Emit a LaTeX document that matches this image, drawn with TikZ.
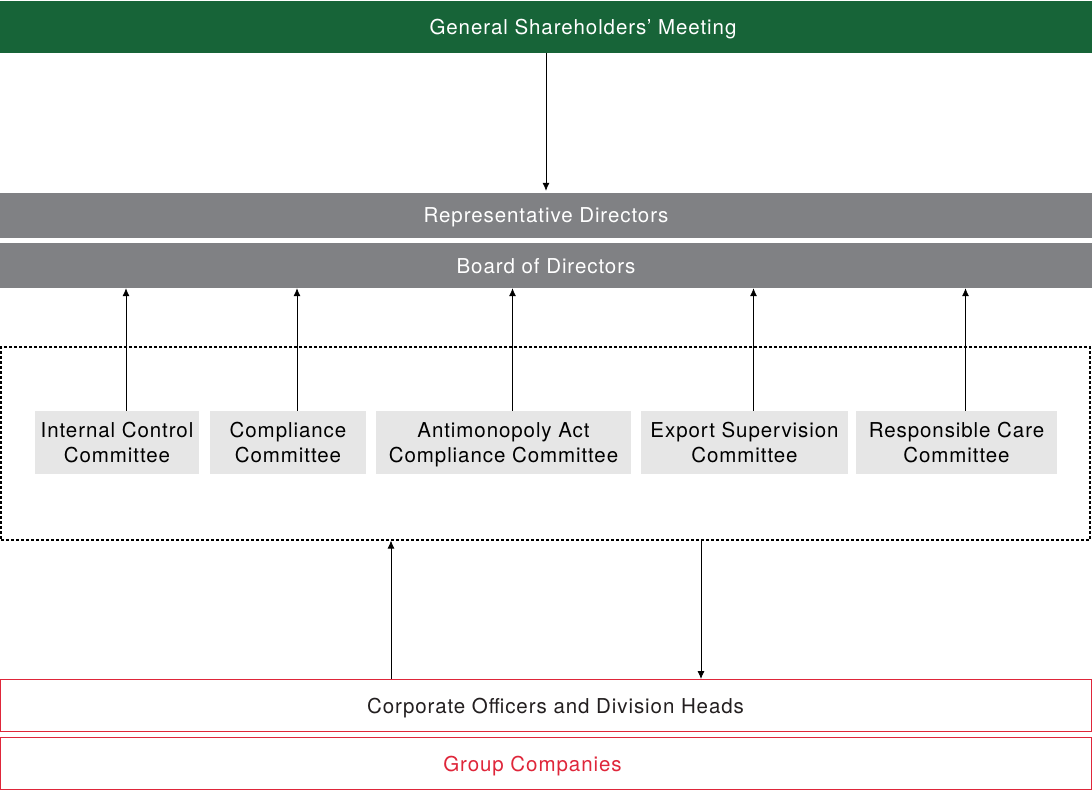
\documentclass[tikz,border=0pt]{standalone}
\usepackage{fontspec}
\setmainfont{TeX Gyre Heros}[LetterSpace=4.5]
\usetikzlibrary{positioning,arrows.meta}
\definecolor{gsmgreen}{RGB}{23,100,56}
\definecolor{boardgray}{RGB}{128,129,132}
\definecolor{cmtgray}{RGB}{230,230,230}
\definecolor{offred}{RGB}{223,38,58}
\definecolor{offtext}{RGB}{35,31,32}
\newcommand\orgw{1092pt}
\newcommand\orgfont{\fontsize{20.5}{25}\selectfont}

\begin{document}
\begin{tikzpicture}
  [x=1pt,y=-1pt,
  >={Latex[length=8pt,width=7pt]},
  every node/.style={font=\orgfont,inner sep=0pt},
  bar/.style={rectangle,minimum width=\orgw,minimum height=45pt,text=white,text depth=0pt},
  gsmbar/.style={bar,fill=gsmgreen,minimum height=52pt},
  boardbar/.style={bar,fill=boardgray},
  committee/.style={rectangle,fill=cmtgray,minimum height=63pt,align=center,text=black,text depth=0pt},
  officer/.style={rectangle,draw=offred,line width=1.2pt,fill=white,minimum width=1090.8pt,minimum height=51.8pt,text depth=0pt},
  frame/.style={rectangle,draw=black,line width=1.2pt,dash pattern=on 3pt off 2pt,minimum width=1089pt,minimum height=193pt},
  report/.style={->,line width=0.8pt}
  ]
  \useasboundingbox (0,0) rectangle (1092,790);

  \node[gsmbar] (gsm) at (546,27) {\hspace*{74pt}General Shareholders’ Meeting};
  \node[boardbar] (rep) at (546,215.5) {Representative Directors};
  \node[boardbar] (bod) at (546,265.5) {Board of Directors};

  \node[frame] (frame) at (545.5,443.5) {};
  \node[committee,minimum width=164pt] (ic) at (117,442.5) {Internal Control\\Committee};
  \node[committee,minimum width=156pt] (cc) at (288,442.5) {Compliance\\Committee};
  \node[committee,minimum width=255pt] (am) at (503.5,442.5) {Antimonopoly Act\\Compliance Committee};
  \node[committee,minimum width=207pt] (ex) at (744.5,442.5) {Export Supervision\\Committee};
  \node[committee,minimum width=201pt] (rc) at (956.5,442.5) {Responsible Care\\Committee};

  \node[officer,text=offtext] (co) at (546,705.5) {\hspace*{19pt}Corporate Officers and Division Heads};
  \node[officer,text=offred] (gc) at (546,763.5) {\hspace*{-27pt}Group Companies};

  \draw[report,shorten >=2pt] (gsm) -- (rep);
  \foreach \c in {ic,cc,am,ex,rc} {
    \coordinate (\c top) at ([xshift=9pt]\c.north);
    \draw[report] (\c top) -- (\c top |- bod.south);
  }

  % links between the officers and the committees
  \coordinate (coup) at ([xshift=-155pt]co.north);
  \coordinate (codown) at ([xshift=155pt]co.north);
  \draw[report] (coup) -- (coup |- frame.south);
  \draw[report] (codown |- frame.south) -- (codown);
\end{tikzpicture}
\end{document}
